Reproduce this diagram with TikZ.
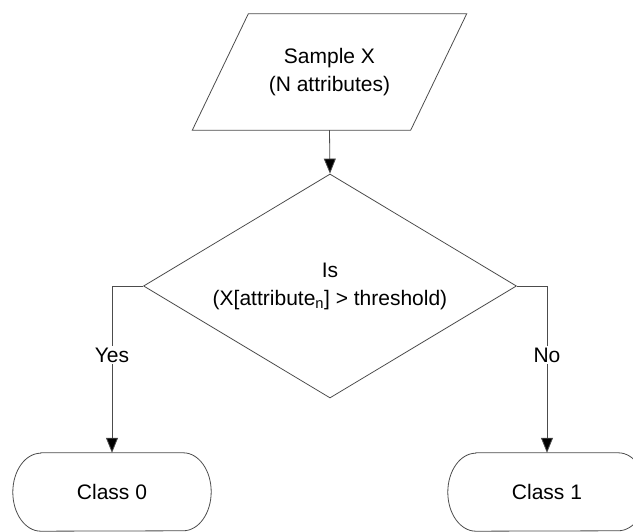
\documentclass[tikz,border=0pt]{standalone}
\usepackage{fontspec}
\setmainfont{Liberation Sans}
\usetikzlibrary{arrows.meta,shapes.geometric}

\begin{document}
\begin{tikzpicture}[
    x=1pt, y=1pt,
    font=\fontsize{21}{28}\selectfont,
    outline/.style={draw=black!70, line width=0.8pt},
    flow/.style={outline, -{Triangle[length=15pt,width=12pt,fill=black]}},
    textbox/.style={shape=rectangle, inner sep=0pt, align=center},
    decision/.style={shape=diamond, outline, inner sep=0pt, align=center,
                     aspect=1.665, minimum width=373pt, minimum height=224pt},
    branchlabel/.style={fill=white, inner sep=2pt},
  ]
  \useasboundingbox (0,0) rectangle (633,532);

  % input parallelogram
  \node[textbox, minimum width=218pt, minimum height=116pt] (sample) at (329.5,460)
       {Sample X\\(N attributes)};
  \draw[outline] ([xshift=28pt]sample.north west) -- ([xshift=28pt]sample.north east)
     -- ([xshift=-28pt]sample.south east) -- ([xshift=-28pt]sample.south west) -- cycle;

  % decision diamond
  \node[decision] (test) at (330,246)
       {Is\\(X[attribute\textsubscript{n}] > threshold)};

  % terminators
  \node[textbox, minimum width=198pt, minimum height=78pt] (c0) at (112,40) {Class 0};
  \node[textbox, minimum width=198pt, minimum height=78pt] (c1) at (547,40) {Class 1};
  \foreach \t in {c0,c1}{
    \draw[outline] ([xshift=28pt]\t.north west) -- ([xshift=-28pt]\t.north east)
      arc[start angle=90, end angle=-90, x radius=28pt, y radius=39pt]
      -- ([xshift=28pt]\t.south west)
      arc[start angle=270, end angle=90, x radius=28pt, y radius=39pt] -- cycle;
  }

  % connectors
  \coordinate (yescorner) at (112,246);
  \coordinate (nocorner) at (547,246);
  \draw[flow] (sample.south) -- (test.north);
  \draw[flow] (test.west) -- (yescorner) -- (c0.north);
  \draw[flow] (test.east) -- (nocorner) -- (c1.north);

  % branch labels
  \node[branchlabel] (yes) at (112,177) {Yes};
  \node[branchlabel] (no) at (547,177) {No};
\end{tikzpicture}
\end{document}
